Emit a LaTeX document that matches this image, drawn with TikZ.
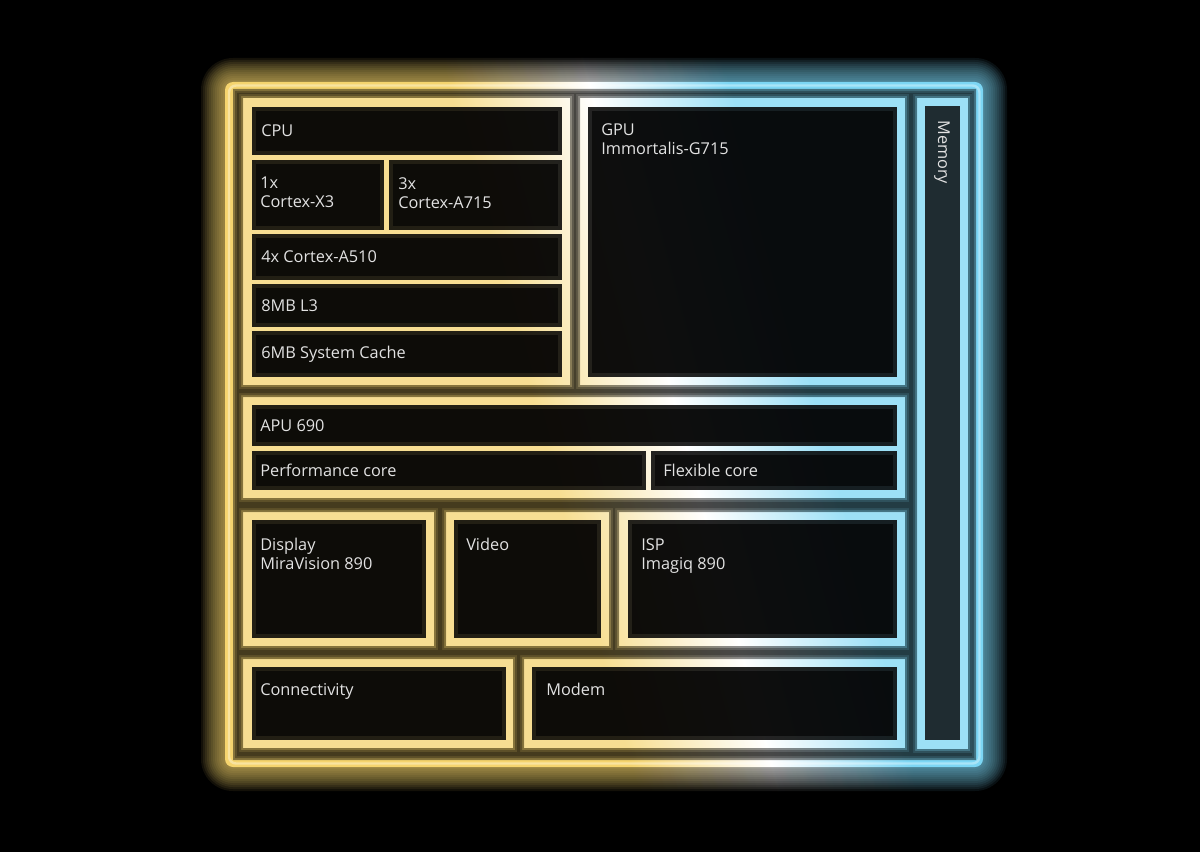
\documentclass[tikz,border=0pt]{standalone}
\usepackage{fontspec}
\setmainfont{Open Sans}

\definecolor{chipgold}{HTML}{F5D46E}
\definecolor{chipsky}{HTML}{7CD6F4}
\definecolor{chiptext}{HTML}{E2E2E2}
\pgfdeclarehorizontalshading{chipglow}{100bp}{color(0bp)=(chipgold); color(25bp)=(chipgold); color(43bp)=(chipgold); color(50bp)=(white); color(57bp)=(chipsky); color(75bp)=(chipsky); color(100bp)=(chipsky)}

\tikzset{
  celltext/.style={text=chiptext, inner sep=0pt, align=left, font=\fontsize{11.6}{13.5}\selectfont},
}

\begin{document}
\begin{tikzpicture}[x=0.025cm, y=-0.025cm]
        \useasboundingbox (0,0) rectangle (1200,852);
        \fill[black] (0,0) rectangle (1200,852);  % background

        % soft glow round the outer frame
        \foreach \d [evaluate=\d as \r using {(8+\d)*0.7113}] in {24,22,...,2} {
            \begin{scope}
                \clip[rounded corners=\r pt] (225-\d,82-\d) rectangle (983+\d,767+\d);
                \shade[shading=chipglow, shading angle=15, opacity=0.08] (180,-20) rectangle (1180,868);
            \end{scope}
        }

        % frame colour, yellow to blue
        \begin{scope}
            \clip[rounded corners=5.7pt] (225,82) rectangle (983,767);
            \shade[shading=chipglow, shading angle=15] (180,-20) rectangle (1180,868);
        \end{scope}
        \draw[white, opacity=0.35, line width=0.06cm, rounded corners=5pt] (229,85.5) rectangle (979.5,763.5);

        % dark gaps between the blocks
        \foreach \i/\op in {0/0.45, 2/0.3, 4/0.25} {
            \fill[black, opacity=\op, even odd rule]
                (233+\i,89+\i) rectangle (976-\i,760-\i)
                foreach \xa/\ya/\xb/\yb in {243/98/570/385, 580/98/905/385, 243/397/905/498,
                    243/512/434/646, 446/512/609/646, 619/512/905/646,
                    243/659/513/748, 524/659/905/748, 917/98/968/749}
                {(\xa-\i,\ya-\i) rectangle (\xb+\i,\yb+\i)};
        }

        % paler block frames
        \foreach \xa/\ya/\xb/\yb in {243/98/570/385, 580/98/905/385, 243/397/905/498,
            243/512/434/646, 446/512/609/646, 619/512/905/646,
            243/659/513/748, 524/659/905/748, 917/98/968/749}
            \fill[white, opacity=0.25] (\xa,\ya) rectangle (\xb,\yb);

        % dark cells
        \foreach \xa/\ya/\xb/\yb in {252/107/562/155, 252/160/384/230, 389/160/562/230,
            252/234/562/280, 252/284/562/327, 252/331/562/377, 588/107/897/377,
            252/405/897/446, 252/451/646/490, 651/451/897/490,
            252/520/426/638, 454/520/601/638, 628/520/897/638,
            252/667/506/740, 532/667/897/740} {
            \fill[black, opacity=0.86] (\xa,\ya) rectangle (\xb,\yb);
            \fill[black, opacity=0.6] (\xa+4,\ya+4) rectangle (\xb-4,\yb-4);
        }
        \fill[black, opacity=0.8] (925,106) rectangle (960,740);  % memory

        % labels
        \node[celltext, anchor=west] (cpu) at (261,131) {CPU};
        \node[celltext, anchor=north west] (x3) at (260,177) {1x\\Cortex-X3};
        \node[celltext, anchor=north west] (a715) at (398,177) {3x\\Cortex-A715};
        \node[celltext, anchor=west] (a510) at (261,257) {4x Cortex-A510};
        \node[celltext, anchor=west] (l3) at (261,305.5) {8MB L3};
        \node[celltext, anchor=west] (slc) at (261,354) {6MB System Cache};
        \node[celltext, anchor=north west] (gpu) at (601,123) {GPU\\Immortalis-G715};
        \node[celltext, anchor=west, rotate=-90] (memory) at (942,120) {Memory};

        \node[celltext, anchor=west] (apu) at (260,425.5) {APU 690};
        \node[celltext, anchor=west] (perf) at (260,470) {Performance core};
        \node[celltext, anchor=west] (flex) at (663,470) {Flexible core};

        \node[celltext, anchor=north west] (disp) at (260,538) {Display\\MiraVision 890};
        \node[celltext, anchor=north west] (video) at (466,538) {Video};
        \node[celltext, anchor=north west] (isp) at (641,538) {ISP\\Imagiq 890};
        \node[celltext, anchor=north west] (conn) at (260,683) {Connectivity};
        \node[celltext, anchor=north west] (modem) at (546,683) {Modem};
\end{tikzpicture}
\end{document}
